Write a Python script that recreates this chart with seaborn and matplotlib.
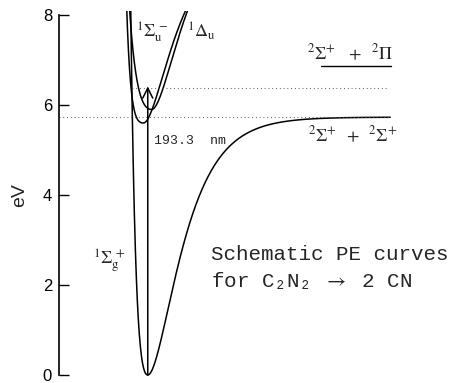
import numpy as np
import pandas as pd
import matplotlib
matplotlib.use("Agg")
import matplotlib.pyplot as plt
import seaborn as sns

# Schematic potential-energy curves (eV vs. arbitrary bond-length units)
state_names = ["X", "A", "B"]
state_labels = [r"$^{1}\Sigma_{\mathrm{g}}^{\,+}$",
                r"$^{1}\Sigma_{\mathrm{u}}^{\,-}$",
                r"$^{1}\Delta_{\mathrm{u}}$"]
T_min = [0.00, 5.60, 5.90]        # energy at the well bottom
R_eq = [2.27, 2.16, 2.37]         # position of the well bottom
well_right = [5.73, 4.0, 4.2]     # outer-branch depth
beta_right = [1.36, 1.45, 1.40]   # outer-branch range parameter
well_left = [1.0, 0.10, 0.60]     # inner-wall scale
beta_left = [3.1, 4.2, 1.9]       # inner-wall steepness
R_start = [1.6, 1.5, 1.5]
R_end = [8.47, 3.6, 3.6]

# Dissociation limits 2 CN
limit_energies = [5.73, 6.38]
limit_labels = [r"$^{2}\Sigma^{+}\;\;+\;\;^{2}\Sigma^{+}$",
                r"$^{2}\Sigma^{+}\;\;\;+\;\;^{2}\Pi$"]
limit_starts = [0.0, 1.87]
limit_ends = [8.47, 8.41]

photon_nm = 193.3
yticks = [0, 2, 4, 6, 8]


def pe_curve(R, T, Re, Dr, ar, Dl, al):
    d = R - Re
    outer = T + Dr * (1.0 - np.exp(-ar * d)) ** 2
    inner = T + Dl * (1.0 - np.exp(-al * d)) ** 2
    return np.where(d >= 0, outer, inner)


frames = []
for i, name in enumerate(state_names):
    R = np.linspace(R_start[i], R_end[i], 800)
    V = pe_curve(R, T_min[i], R_eq[i], well_right[i], beta_right[i],
                 well_left[i], beta_left[i])
    frames.append(pd.DataFrame({"R": R, "V": V, "state": name}))
curves = pd.concat(frames, ignore_index=True)

sns.set_theme(style="white")
plt.rcParams["font.family"] = ["Liberation Sans", "DejaVu Sans"]
plt.rcParams["mathtext.fontset"] = "stix"

fig = plt.figure(figsize=(4.5, 3.83), dpi=100)
ax = fig.add_axes([0.1311, 0.00914, 0.8689, 0.9611])

sns.lineplot(data=curves, x="R", y="V", units="state", estimator=None,
             sort=False, color="black", lw=1.1, legend=False, ax=ax)

# dissociation asymptotes
for E, x0, x1 in zip(limit_energies, limit_starts, limit_ends):
    ax.plot([x0, x1], [E, E], color="#555555", lw=0.8,
            linestyle=(0, (0.8, 2.6)))

# vertical excitation at the photon energy
photon_eV = 1239.84 / photon_nm
ax.annotate("", xy=(R_eq[0], T_min[0] + photon_eV), xytext=(R_eq[0], T_min[0]),
            arrowprops=dict(arrowstyle="->,head_length=0.6,head_width=0.3",
                            lw=1.1, color="black", shrinkA=0, shrinkB=0))

ax.set_xlim(0, 10)
ax.set_ylim(-0.1, 8.08)
ax.set_xticks([])
ax.set_yticks(yticks)
ax.set_yticklabels([str(t) for t in yticks])
ax.set_xlabel("")
ax.set_ylabel("eV", fontsize=14)
ax.yaxis.set_label_coords(-0.079, 0.5)
for side in ["top", "right", "bottom"]:
    ax.spines[side].set_visible(False)
ax.spines["left"].set_bounds(0, 8)
ax.spines["left"].set_linewidth(1.2)
ax.spines["left"].set_color("black")
ax.tick_params(axis="y", direction="in", length=7.5, width=1.0,
               labelsize=12, pad=5, colors="black", left=True)

# state labels
ax.text(0.87, 2.44, state_labels[0], fontsize=13, va="baseline", ha="left")
ax.text(1.97, 7.51, state_labels[1], fontsize=13, va="baseline", ha="left")
ax.text(3.27, 7.51, state_labels[2], fontsize=13, va="baseline", ha="left")

# limit labels
ax.text(7.44, 7.0, limit_labels[1], fontsize=13, va="baseline", ha="center")
ax.plot([6.70, 8.49], [6.87, 6.87], color="black", lw=1.0)
ax.text(7.52, 5.18, limit_labels[0], fontsize=13, va="baseline", ha="center")

mono = ["Liberation Mono", "DejaVu Sans Mono"]
ax.text(2.43, 5.13, f"{photon_nm:.1f}  nm", fontsize=9.5, family=mono,
        va="baseline", ha="left")
ax.text(3.89, 2.56, "Schematic PE curves", fontsize=15, family=mono,
        va="baseline", ha="left")
ax.text(3.89, 1.96, "for C\u2082N\u2082 $\\rightarrow$ 2 CN", fontsize=15,
        family=mono, va="baseline", ha="left")

fig.savefig("out.png", dpi=100)
